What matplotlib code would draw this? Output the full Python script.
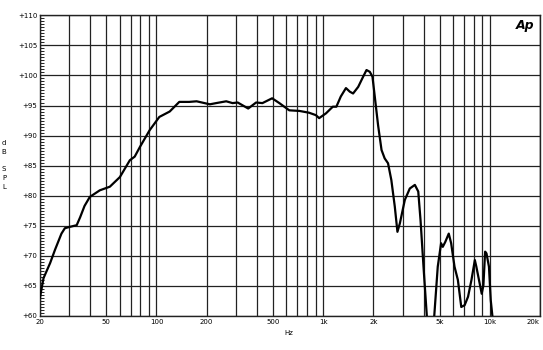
import matplotlib
matplotlib.use('Agg')
import matplotlib.pyplot as plt
import numpy as np

# frequency response (Hz, dB SPL)
freq = [20, 21, 23, 24.6, 26.9, 28.2, 30, 33.2, 34.8, 37, 39.8, 45.7, 52.5, 60.3,
        69.2, 74, 79.5, 91, 104, 120, 137, 157, 174, 209, 228, 262, 286, 307, 355,
        396, 432, 494, 546, 626, 720, 823, 904, 946, 1040, 1142, 1200, 1276, 1370,
        1445, 1512, 1623, 1738, 1820, 1905, 1976, 2040, 2136, 2240, 2340, 2450,
        2565, 2690, 2790, 2885, 3090, 3310, 3550, 3720, 3840, 4000, 4190, 4400,
        4640, 4870, 5100, 5220, 5400, 5670, 5860, 6140, 6430, 6740, 7060, 7400,
        7760, 8130, 8300, 8940, 9150, 9370, 9550, 9880, 10130, 10360, 10450]
spl = [63.1, 66.3, 68.8, 71.0, 73.7, 74.6, 74.8, 75.1, 76.4, 78.3, 79.8, 80.9, 81.5, 83.1,
       85.9, 86.5, 88.1, 90.9, 93.1, 94.0, 95.6, 95.6, 95.7, 95.2, 95.4, 95.7, 95.4, 95.5, 94.5,
       95.5, 95.4, 96.2, 95.4, 94.2, 94.1, 93.8, 93.4, 92.9, 93.7, 94.8, 94.8, 96.5, 97.9,
       97.3, 97.0, 98.1, 99.8, 100.9, 100.6, 99.8, 96.5, 91.7, 87.6, 86.2, 85.4,
       82.6, 78.2, 74.0, 75.4, 79.3, 81.2, 81.8, 80.7, 75.9, 68.2, 59.9, 55.0,
       60.0, 68.2, 72.1, 71.5, 72.3, 73.7, 72.1, 68.2, 66.0, 61.5, 61.8, 63.2,
       66.0, 69.3, 68.2, 63.7, 65.1, 70.7, 70.4, 68.2, 62.6, 60.0, 58.0]

xticks = [20, 50, 100, 200, 500, 1000, 2000, 5000, 10000, 20000]
xticklabels = ['20', '50', '100', '200', '500', '1k', '2k', '5k', '10k', '20k']
yticks = list(range(60, 111, 5))
yticklabels = ['+%d' % v for v in yticks]

W, H = 543, 350
fig = plt.figure(figsize=(W / 100, H / 100), dpi=100)
ax = fig.add_axes([40 / W, 1 - 316 / H, 500 / W, (316 - 15.3) / H])

# vertical grid at every 1-2-...-9 of each decade
vgrid = [m * d for d in (10, 100, 1000, 10000) for m in range(1, 10)]
vgrid = [v for v in vgrid if 20 <= v <= 20000] + [20000]
for v in vgrid:
    ax.axvline(v, color='#222222', lw=0.9, zorder=1)
for v in yticks:
    ax.axhline(v, color='#222222', lw=0.9, zorder=1)

ax.plot(freq, spl, color='black', lw=1.6, zorder=3)

ax.set_xscale('log')
ax.set_xlim(20, 20000)
ax.set_ylim(60, 110)
ax.set_xticks(xticks)
ax.set_xticklabels(xticklabels)
ax.get_xticklabels()[-1].set_ha('right')
ax.xaxis.set_minor_locator(matplotlib.ticker.NullLocator())
ax.set_yticks(yticks)
ax.set_yticklabels(yticklabels)
ax.set_yticks(np.arange(60, 110, 0.5), minor=True)
ax.tick_params(axis='both', which='major', length=0, labelsize=5, pad=2)
ax.tick_params(axis='y', which='minor', direction='in', length=3, width=0.6, left=True)
for s in ax.spines.values():
    s.set_linewidth(1.0)
    s.set_color('#222222')

for i, ch in enumerate(['d', 'B', '', 'S', 'P', 'L']):
    fig.text(4 / W, 1 - (143 + i * 8.8) / H, ch, fontsize=5, ha='center', va='center')
fig.text(289 / W, 1 - 333 / H, 'Hz', fontsize=5, ha='center', va='center')
fig.text(525 / W, 1 - 25 / H, 'Ap', fontsize=9, fontweight='bold', style='italic',
         ha='center', va='center')

fig.savefig('out.png', dpi=100)
